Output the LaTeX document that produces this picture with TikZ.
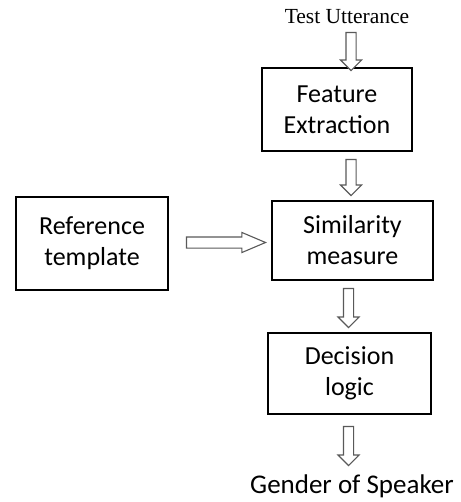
\documentclass[tikz,border=0pt]{standalone}
\usepackage{fontspec}
\setmainfont{Carlito}
\newfontfamily\timesfont{Liberation Serif}
\usetikzlibrary{shapes.arrows}
\tikzstyle{every picture}+=[x=1pt,y=-1pt]
\tikzstyle{every picture}+=[line join=miter]
\tikzstyle{block}+=[draw, line width=1.3pt, inner sep=0pt, align=center]
\tikzstyle{block}+=[font=\fontsize{26}{31}\selectfont]
\tikzstyle{hollow}+=[single arrow, draw=black!65, fill=white, line width=1.1pt]
\tikzstyle{hollow}+=[inner xsep=0pt, inner ysep=4.5pt, single arrow head extend=5.5pt]
\tikzstyle{down}+=[hollow, rotate=-90]

\begin{document}
\begin{tikzpicture}
\useasboundingbox (0,0) rectangle (460,502);
\node[font=\timesfont\fontsize{21.5}{24}\selectfont] (ut) at (347,17) {Test Utterance};
\node[block, minimum width=150, minimum height=83] (fe) at (337,109.5) {Feature\\Extraction};
\node[block, minimum width=161, minimum height=79] (sm) at (352.5,240.5) {Similarity\\measure};
\node[block, minimum width=152, minimum height=93] (rt) at (92,243.5) {Reference\\template};
\node[block, minimum width=163, minimum height=81] (dl) at (349.5,373.5) {Decision\\logic};
\node[inner sep=0pt, font=\fontsize{27}{31}\selectfont] (gs) at (352,486.5) {Gender of Speaker};

% block arrows
\node[down, minimum height=38] (a1) at (351,49) {};
\node[down, minimum height=36] (a2) at (351,175) {};
\node[hollow, minimum height=79, inner ysep=5pt, single arrow head extend=4.5pt, single arrow tip angle=46] (a3) at (219.5,242.5) {};
\node[down, minimum height=39] (a4) at (348.5,305.5) {};
\node[down, minimum height=39] (a5) at (348.5,443.5) {};
\end{tikzpicture}
\end{document}
